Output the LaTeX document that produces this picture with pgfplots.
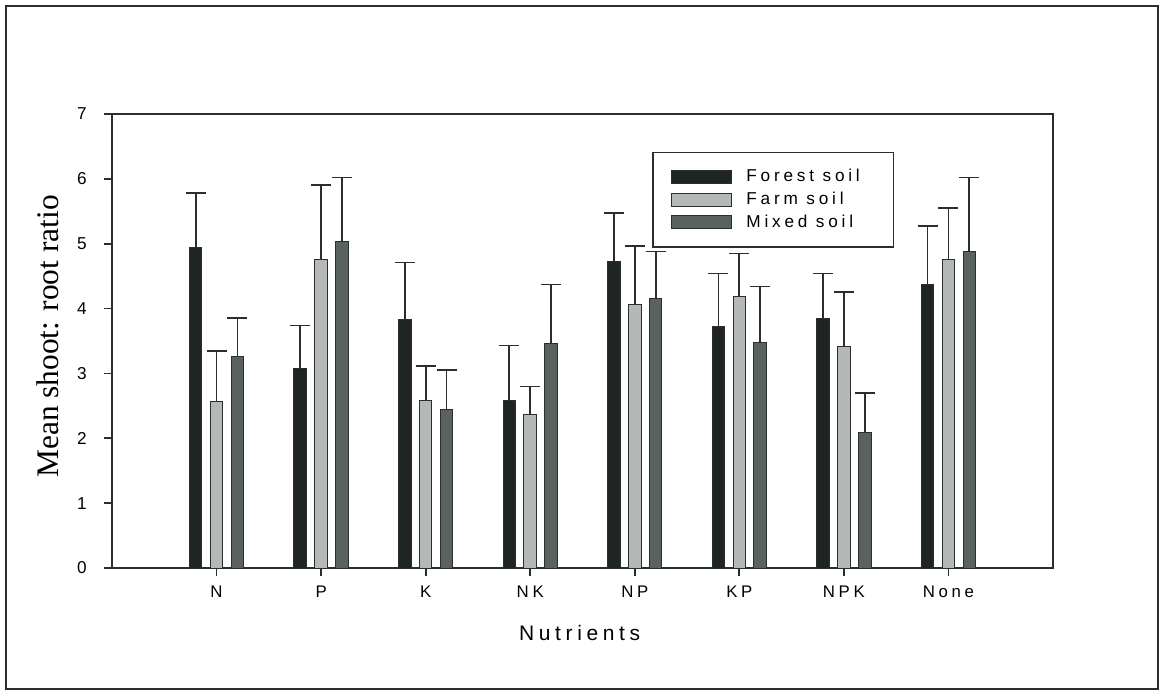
\documentclass[border=0pt]{standalone}
\usepackage{pgfplots}
\pgfplotsset{compat=1.18}
\usepackage{pgfplotstable}
\usepackage{fontspec}
\setmainfont{Liberation Sans}
\newfontfamily\timesfont{Liberation Serif}
\newfontfamily\spaced[LetterSpace=22]{Liberation Sans}
\definecolor{forest}{HTML}{1F2523}
\definecolor{farm}{HTML}{B4B8B7}
\definecolor{mixed}{HTML}{5A6260}
\definecolor{edge}{HTML}{2A2E2D}

\pgfplotstableread{
x y e
0 4.94 0.84
1 3.08 0.66
2 3.83 0.88
3 2.59 0.84
4 4.73 0.74
5 3.73 0.81
6 3.85 0.69
7 4.37 0.90
}\forestdata
\pgfplotstableread{
x y e
0 2.56 0.79
1 4.75 1.15
2 2.59 0.52
3 2.36 0.44
4 4.07 0.90
5 4.19 0.66
6 3.41 0.85
7 4.75 0.80
}\farmdata
\pgfplotstableread{
x y e
0 3.26 0.59
1 5.03 0.99
2 2.44 0.61
3 3.46 0.91
4 4.15 0.73
5 3.47 0.87
6 2.09 0.61
7 4.88 1.14
}\mixeddata

\begin{document}
\begin{tikzpicture}
\useasboundingbox (0,0) rectangle (581.5pt,346pt);
\draw[line width=1pt, edge] (3pt,1.5pt) rectangle (579pt,343pt);
\begin{axis}[
  at={(56pt,62pt)}, anchor=south west,
  scale only axis, width=470.5pt, height=227pt,
  xmin=-1, xmax=8, ymin=0, ymax=7,
  ybar=4.15pt, bar width=6.3pt,
  axis line style={line width=0.9pt, edge},
  xtick={0,...,7},
  xticklabels={N,P,K,NK,NP,KP,NPK,None},
  ytick={0,...,7},
  xtick pos=bottom, ytick pos=left,
  tick align=outside, major tick length=4pt,
  tick style={line width=0.9pt, edge},
  /pgf/number format/assume math mode=true,
  xticklabel style={font=\spaced\fontsize{8.4}{10}\selectfont, inner sep=0pt, anchor=north, yshift=-5pt},
  yticklabel style={font=\fontsize{8.6}{10}\selectfont, inner sep=0pt, anchor=east, xshift=-8.5pt},
  every axis x label/.style={at={(axis description cs:0.497,-0.143)}, anchor=center},
  every axis y label/.style={at={(axis description cs:-0.068,0.51)}, anchor=center, rotate=90},
  xlabel={\spaced\fontsize{10.5}{12}\selectfont Nutrients},
  ylabel={\timesfont\fontsize{15.7}{18}\selectfont Mean shoot: root ratio},
  legend style={at={(rel axis cs:0.574,0.917)}, anchor=north west,
    draw=edge, line width=0.7pt, inner xsep=9pt, inner ysep=8.5pt,
    font=\spaced\fontsize{8.6}{10}\selectfont,
    row sep=3.9pt,
    nodes={inner sep=0pt, text height=6.3pt, text depth=1.2pt},
    /tikz/every odd column/.append style={column sep=7.3pt}},
  legend cell align=left,
  legend image code/.code={\draw[#1, line width=0.5pt] (0pt,-3.25pt) rectangle (30pt,3.25pt);},
]
\addplot[fill=forest, draw=edge, line width=0.5pt,
  error bars/.cd, y dir=plus, y explicit, error mark=|,
  error bar style={line width=0.9pt, edge, solid},
  error mark options={line width=0.9pt, edge, mark size=5pt}]
  table[x=x, y=y, y error=e] {\forestdata};
\addlegendentry{\makebox[64.5pt][l]{Forest soil}}
\addplot[fill=farm, draw=edge, line width=0.5pt,
  error bars/.cd, y dir=plus, y explicit, error mark=|,
  error bar style={line width=0.9pt, edge, solid},
  error mark options={line width=0.9pt, edge, mark size=5pt}]
  table[x=x, y=y, y error=e] {\farmdata};
\addlegendentry{\makebox[64.5pt][l]{Farm  soil}}
\addplot[fill=mixed, draw=edge, line width=0.5pt,
  error bars/.cd, y dir=plus, y explicit, error mark=|,
  error bar style={line width=0.9pt, edge, solid},
  error mark options={line width=0.9pt, edge, mark size=5pt}]
  table[x=x, y=y, y error=e] {\mixeddata};
\addlegendentry{\makebox[64.5pt][l]{Mixed soil}}
\end{axis}
\end{tikzpicture}
\end{document}
